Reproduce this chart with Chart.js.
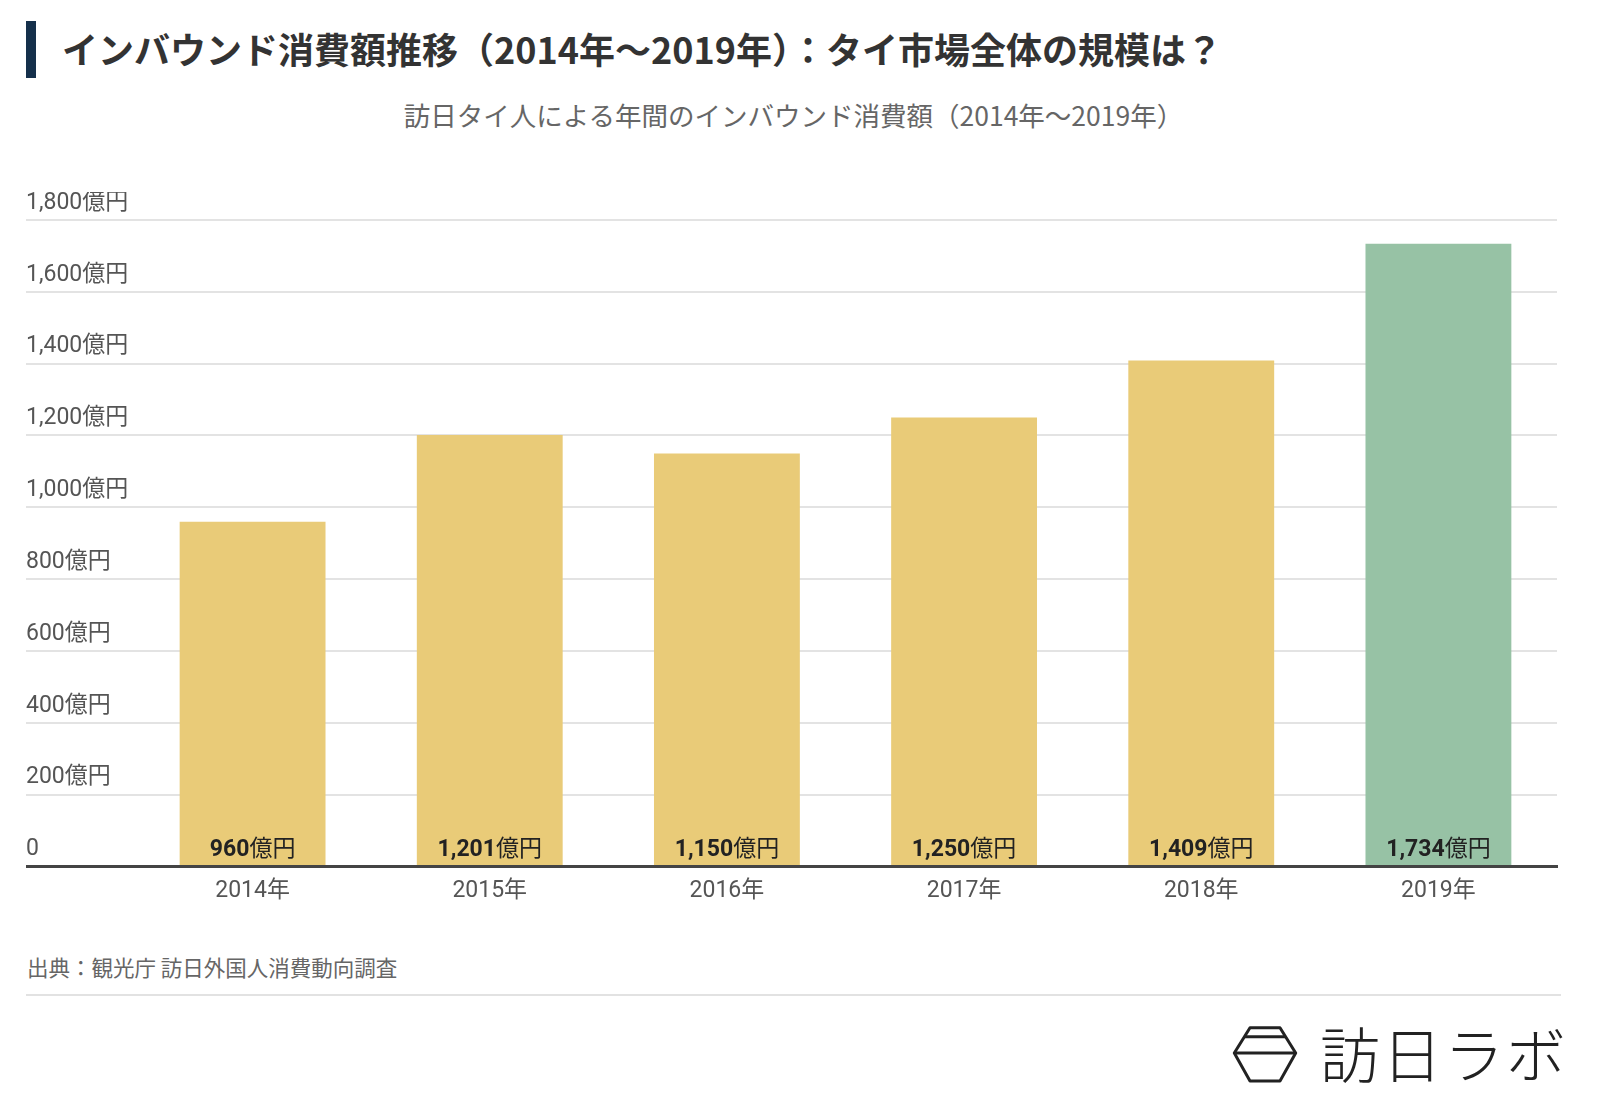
<!DOCTYPE html>
<html lang="ja">
<head>
<meta charset="UTF-8">
<title>インバウンド消費額推移：タイ</title>
<script src="https://cdn.jsdelivr.net/npm/chart.js"></script>
<style>
  body { margin: 0; width: 1600px; height: 1107px; background: #fff; position: relative; overflow: hidden; font-family: 'Noto Sans CJK JP', sans-serif; }
  .title-bar { position: absolute; left: 26px; top: 21px; width: 10px; height: 57px; background: #15304b; }
  .title { position: absolute; left: 62px; top: 22px; margin: 0; font-size: 36px; font-weight: 700; color: #333; line-height: 52px; white-space: nowrap; }
  .subtitle { position: absolute; left: 26px; width: 1535px; top: 96px; text-align: center; font-size: 26.5px; color: #666; line-height: 38px; }
  .chart-box { position: absolute; left: 0; top: 192px; width: 1600px; height: 726px; }
  .source { position: absolute; left: 27px; top: 952px; font-size: 21.5px; color: #666; line-height: 30px; }
  .divider { position: absolute; left: 26px; top: 994px; width: 1535px; height: 2px; background: #e2e2e2; }
  .logo-mark { position: absolute; left: 1232px; top: 1025px; }
  .logo-text { position: absolute; left: 1320px; top: 1020px; font-size: 60px; line-height: 64px; font-weight: 300; color: #222; letter-spacing: 2px; }
</style>
</head>
<body>
<div class="title-bar"></div>
<h1 class="title">インバウンド消費額推移（2014年～2019年）：タイ市場全体の規模は？</h1>
<div class="subtitle">訪日タイ人による年間のインバウンド消費額（2014年～2019年）</div>

<div class="chart-box">
    <canvas id="spendChart"></canvas>
</div>

<div class="source">出典：観光庁 訪日外国人消費動向調査</div>
<div class="divider"></div>

<!-- ロゴ -->
<svg class="logo-mark" width="66" height="60" viewBox="0 0 66 60">
    <polygon points="18,2.7 48,2.7 63.7,28 48,56 18,56 2.3,28" fill="none" stroke="#222" stroke-width="3" stroke-linejoin="round"/>
    <line x1="12.4" y1="11.7" x2="53.6" y2="11.7" stroke="#222" stroke-width="3"/>
    <line x1="2.3" y1="28" x2="63.7" y2="28" stroke="#222" stroke-width="3"/>
</svg>
<div class="logo-text">訪日ラボ</div>

<script>
    // データ
    const years = ['2014年', '2015年', '2016年', '2017年', '2018年', '2019年'];
    const spending = [960, 1201, 1150, 1250, 1409, 1734]; // 億円
    const yTicks = [0, 200, 400, 600, 800, 1000, 1200, 1400, 1600, 1800];
    const unit = '億円';

    const yellow = '#e9cb78';
    const green = '#97c2a5';
    const numFont = 'Roboto, "Noto Sans CJK JP", sans-serif';
    const fontSize = 23;

    // 棒の中に金額を表示（数字は太字、単位は通常）
    const valueLabels = {
        id: 'valueLabels',
        afterDatasetsDraw(chart) {
            const ctx = chart.ctx;
            const meta = chart.getDatasetMeta(0);
            ctx.save();
            ctx.textBaseline = 'alphabetic';
            ctx.textAlign = 'left';
            ctx.fillStyle = '#222';
            meta.data.forEach((bar, i) => {
                const num = spending[i].toLocaleString('en-US');
                ctx.font = '700 ' + fontSize + 'px ' + numFont;
                const w1 = ctx.measureText(num).width;
                ctx.font = '400 ' + fontSize + 'px "Noto Sans CJK JP", sans-serif';
                const w2 = ctx.measureText(unit).width;
                const x = bar.x - (w1 + w2) / 2;
                const y = bar.base - 9; // ベースライン
                ctx.font = '700 ' + fontSize + 'px ' + numFont;
                ctx.fillText(num, x, y);
                ctx.font = '400 ' + fontSize + 'px "Noto Sans CJK JP", sans-serif';
                ctx.fillText(unit, x + w1, y);
            });
            ctx.restore();
        }
    };

    const ctx = document.getElementById('spendChart').getContext('2d');
    new Chart(ctx, {
        type: 'bar',
        data: {
            labels: years,
            datasets: [{
                data: spending,
                backgroundColor: years.map((y, i) => i === years.length - 1 ? green : yellow),
                borderWidth: 0,
                categoryPercentage: 1,
                barPercentage: 0.615
            }]
        },
        options: {
            responsive: true,
            maintainAspectRatio: false,
            animation: false,
            layout: { padding: { left: 26, right: 43, top: 28, bottom: 10 } },
            plugins: {
                legend: { display: false },
                tooltip: { enabled: false }
            },
            scales: {
                x: {
                    z: 1,
                    grid: { display: false },
                    border: { display: true, color: '#444', width: 3 },
                    ticks: {
                        color: '#555',
                        padding: 3,
                        font: { family: numFont, size: fontSize }
                    }
                },
                y: {
                    min: 0,
                    max: 1800,
                    afterBuildTicks: scale => {
                        scale.ticks = yTicks.map(v => ({ value: v }));
                    },
                    afterFit: scale => {
                        scale.width = 108; // 目盛線を左端まで伸ばす
                    },
                    border: { display: false },
                    grid: {
                        color: c => c.tick && c.tick.value === 0 ? '#444' : '#e3e3e3',
                        lineWidth: c => c.tick && c.tick.value === 0 ? 3 : 2,
                        drawTicks: true,
                        tickLength: 108
                    },
                    ticks: {
                        crossAlign: 'far',
                        labelOffset: -17,
                        padding: 0,
                        color: '#555',
                        font: { family: numFont, size: fontSize },
                        callback: v => v === 0 ? '0' : v.toLocaleString('en-US') + unit
                    }
                }
            }
        },
        plugins: [valueLabels]
    });
</script>
</body>
</html>
